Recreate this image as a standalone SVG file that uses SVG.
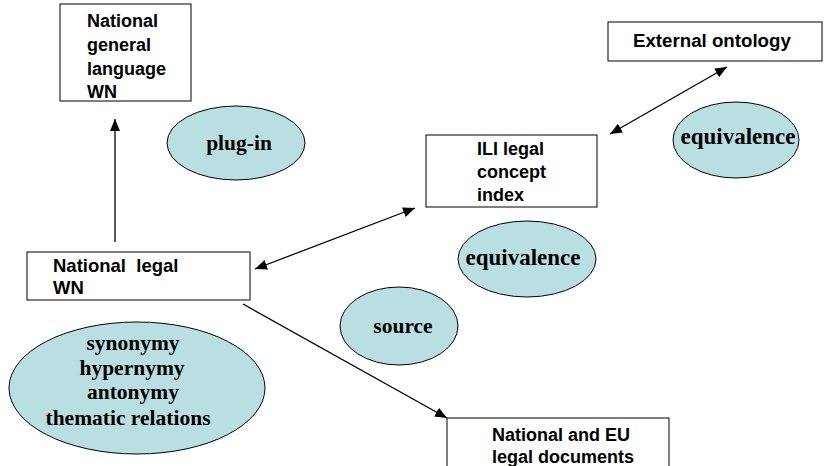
<svg xmlns="http://www.w3.org/2000/svg" width="825" height="466" viewBox="0 0 825 466">
<style>
.box{fill:#fff;stroke:#000;stroke-width:1}
.bt{font-family:"Liberation Sans",Arial,sans-serif;font-weight:bold;font-size:18px;fill:#000}
.ell{fill:#b9dfe3;stroke:#000;stroke-width:1}
.et{font-family:"Liberation Serif","Times New Roman",serif;font-weight:bold;font-size:21.5px;fill:#000;text-anchor:middle}
.con{stroke:#000;stroke-width:1.3;fill:none}
</style>
<defs>
<marker id="ah" viewBox="0 0 12 10" refX="12" refY="5" markerWidth="12" markerHeight="10" markerUnits="userSpaceOnUse" orient="auto-start-reverse">
<path d="M0,0 L12,5 L0,10 z" fill="#000"/>
</marker>
</defs>
<g id="connectors">
<line class="con" x1="115" y1="242" x2="115" y2="119" marker-end="url(#ah)"/>
<line class="con" x1="255" y1="269" x2="415" y2="208" marker-start="url(#ah)" marker-end="url(#ah)"/>
<line class="con" x1="610" y1="134" x2="727" y2="67" marker-start="url(#ah)" marker-end="url(#ah)"/>
<line class="con" x1="243" y1="304" x2="447" y2="418" marker-end="url(#ah)"/>
</g>
<g id="national-general-wn">
<rect class="box" x="60" y="4" width="131" height="97"/>
<text class="bt" x="87" y="27">National</text>
<text class="bt" x="87" y="51">general</text>
<text class="bt" x="87" y="75">language</text>
<text class="bt" x="87" y="98">WN</text>
</g>
<g id="plug-in">
<ellipse class="ell" cx="236" cy="143" rx="69" ry="37"/>
<text class="et" x="239" y="150">plug-in</text>
</g>
<g id="national-legal-wn">
<rect class="box" x="27" y="252" width="223" height="48"/>
<text class="bt" x="53" y="272" xml:space="preserve" style="font-size:18.5px">National  legal</text>
<text class="bt" x="53" y="294" style="font-size:18.5px">WN</text>
</g>
<g id="relations">
<ellipse class="ell" cx="137" cy="388" rx="128" ry="66"/>
<text class="et" x="133" y="350">synonymy</text>
<text class="et" x="132" y="375">hypernymy</text>
<text class="et" x="133" y="399">antonymy</text>
<text class="et" x="128" y="425">thematic relations</text>
</g>
<g id="ili">
<rect class="box" x="426" y="135" width="171" height="72"/>
<text class="bt" x="477" y="155">ILI legal</text>
<text class="bt" x="477" y="178">concept</text>
<text class="bt" x="477" y="201">index</text>
</g>
<g id="equivalence-mid">
<ellipse class="ell" cx="527" cy="259" rx="69" ry="38"/>
<text class="et" x="523" y="265" style="font-size:23px">equivalence</text>
</g>
<g id="source">
<ellipse class="ell" cx="399" cy="326" rx="59" ry="39"/>
<text class="et" x="403" y="333">source</text>
</g>
<g id="external-ontology">
<rect class="box" x="608" y="22" width="214" height="39"/>
<text class="bt" x="633" y="47" style="font-size:18.7px">External ontology</text>
</g>
<g id="equivalence-right">
<ellipse class="ell" cx="736" cy="140" rx="63" ry="38"/>
<text class="et" x="738" y="144" style="font-size:23px">equivalence</text>
</g>
<g id="national-eu-docs">
<rect class="box" x="447" y="418" width="222" height="60"/>
<text class="bt" x="492" y="441">National and EU</text>
<text class="bt" x="492" y="463">legal documents</text>
</g>
</svg>
